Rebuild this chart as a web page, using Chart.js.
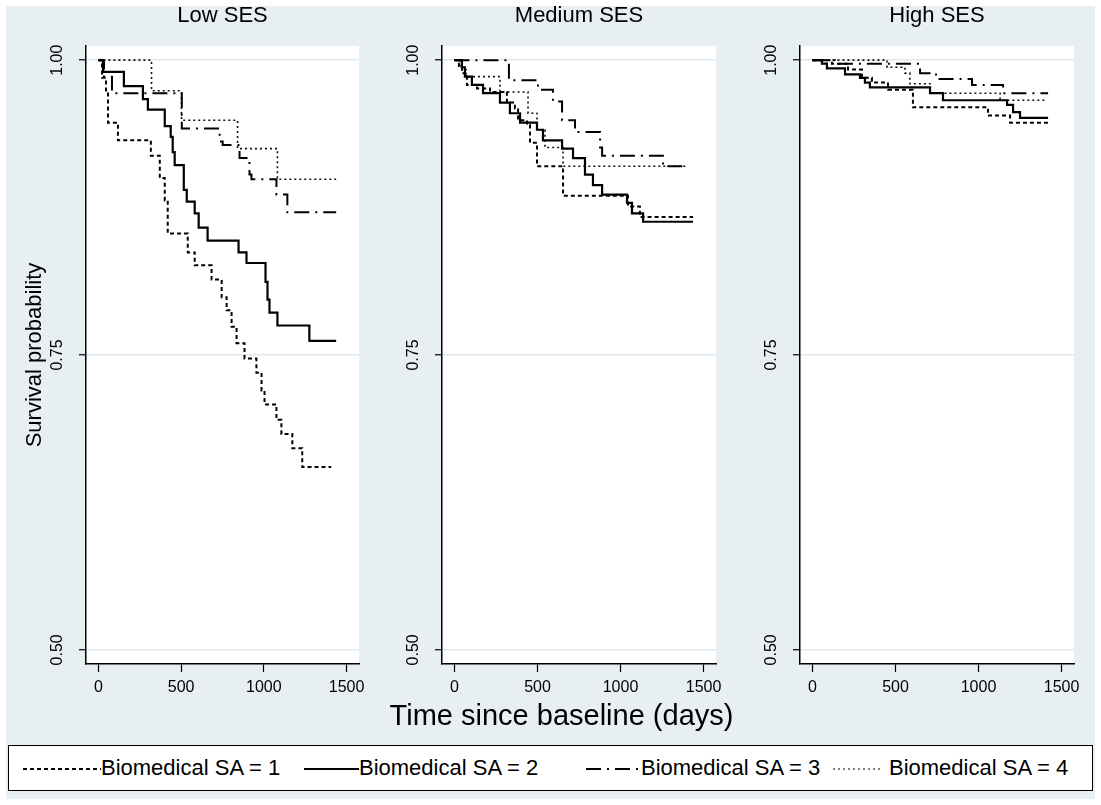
<!DOCTYPE html>
<html lang="en">
<head>
<meta charset="UTF-8">
<title>Survival by SES</title>
<script src="https://cdn.jsdelivr.net/npm/chart.js"></script>
<style>
  body { margin: 0; background: #fff; font-family: "Liberation Sans", Arial, sans-serif; }
  #frame { position: absolute; left: 6px; top: 6px; width: 1089px; height: 793px; background: #e8eff2; }
  canvas { position: absolute; top: 0; }
  #xtitle { position: absolute; left: 11px; width: 1101px; top: 699px; text-align: center;
            font-size: 29px; color: #000; }
  #legend { position: absolute; left: 8px; top: 745px; width: 1083px; height: 44px;
            background: #fff; border: 1px solid #000; }
  .item { position: absolute; top: 0; height: 44px; line-height: 44px; font-size: 22px; white-space: nowrap; }
  .item svg { position: absolute; top: 21px; }
</style>
</head>
<body>
<div id="frame"></div>
<canvas id="low" width="362" height="706" style="left:6px"></canvas>
<canvas id="med" width="360" height="706" style="left:362px"></canvas>
<canvas id="high" width="360" height="706" style="left:720px"></canvas>
<div id="xtitle">Time since baseline (days)</div>
<div id="legend">
  <div class="item" style="left:14px"><svg width="78" height="4"><line x1="0" y1="2" x2="78" y2="2" stroke="#000" stroke-width="2" stroke-dasharray="4 3"/></svg><span style="margin-left:78px">Biomedical SA = 1</span></div>
  <div class="item" style="left:295px"><svg width="55" height="4"><line x1="0" y1="2" x2="55" y2="2" stroke="#000" stroke-width="2"/></svg><span style="margin-left:55px">Biomedical SA = 2</span></div>
  <div class="item" style="left:577px"><svg width="52" height="4"><line x1="0" y1="2" x2="52" y2="2" stroke="#000" stroke-width="2" stroke-dasharray="15 6 2 6"/></svg><span style="margin-left:55px">Biomedical SA = 3</span></div>
  <div class="item" style="left:824px"><svg width="50" height="4"><line x1="0" y1="2" x2="50" y2="2" stroke="#555" stroke-width="1.5" stroke-dasharray="2 3"/></svg><span style="margin-left:56px">Biomedical SA = 4</span></div>
</div>
<script>
// Kaplan-Meier estimates (time in days, survival probability)
const lowT1 = [0, 22, 46, 58, 118, 317, 371, 401, 419, 540, 582, 684, 745, 775, 805, 835, 883, 955, 986, 1004, 1076, 1106, 1172, 1232, 1407];
const lowS1 = [1, 0.985, 0.973, 0.947, 0.932, 0.919, 0.900, 0.881, 0.853, 0.837, 0.826, 0.814, 0.799, 0.788, 0.774, 0.760, 0.747, 0.735, 0.720, 0.708, 0.695, 0.683, 0.671, 0.655, 0.655];
const lowT2 = [0, 28, 154, 269, 299, 401, 437, 449, 461, 516, 534, 582, 606, 660, 847, 895, 1010, 1022, 1034, 1082, 1275, 1437];
const lowS2 = [1, 0.990, 0.978, 0.967, 0.958, 0.944, 0.935, 0.922, 0.911, 0.890, 0.880, 0.870, 0.858, 0.847, 0.837, 0.828, 0.812, 0.797, 0.786, 0.775, 0.762, 0.762];
const lowT3 = [0, 34, 82, 504, 733, 751, 853, 913, 925, 1076, 1142, 1437];
const lowS3 = [1, 0.986, 0.972, 0.942, 0.931, 0.928, 0.917, 0.903, 0.899, 0.886, 0.871, 0.871];
const lowT4 = [0, 321, 502, 841, 1082, 1437];
const lowS4 = [1, 0.974, 0.949, 0.925, 0.899, 0.899];

const medT1 = [0, 27, 45, 75, 136, 214, 316, 364, 383, 437, 455, 497, 654, 1045, 1117, 1437];
const medS1 = [1, 0.995, 0.989, 0.979, 0.976, 0.973, 0.964, 0.959, 0.949, 0.945, 0.930, 0.910, 0.885, 0.876, 0.867, 0.867];
const medT2 = [0, 45, 63, 105, 172, 274, 334, 395, 497, 533, 648, 714, 786, 834, 889, 1039, 1069, 1136, 1437];
const medS2 = [1, 0.994, 0.986, 0.979, 0.972, 0.964, 0.955, 0.947, 0.941, 0.932, 0.925, 0.917, 0.903, 0.894, 0.886, 0.879, 0.870, 0.863, 0.863];
const medT3 = [0, 328, 503, 593, 648, 726, 877, 889, 1256, 1407];
const medS3 = [1, 0.983, 0.975, 0.965, 0.949, 0.939, 0.926, 0.919, 0.910, 0.910];
const medT4 = [0, 33, 69, 274, 443, 497, 545, 654, 1407];
const medS4 = [1, 0.993, 0.986, 0.973, 0.955, 0.941, 0.926, 0.910, 0.910];

const highT1 = [0, 117, 214, 298, 358, 455, 605, 1057, 1190, 1419];
const highS1 = [1, 0.997, 0.992, 0.985, 0.981, 0.975, 0.960, 0.953, 0.947, 0.947];
const highT2 = [0, 57, 87, 196, 286, 316, 346, 708, 786, 1172, 1208, 1250, 1419];
const highS2 = [1, 0.997, 0.993, 0.988, 0.985, 0.981, 0.977, 0.972, 0.966, 0.962, 0.956, 0.951, 0.951];
const highT3 = [0, 136, 648, 744, 961, 1148, 1419];
const highS3 = [1, 0.997, 0.989, 0.984, 0.979, 0.972, 0.972];
const highT4 = [0, 449, 557, 587, 708, 1130, 1413];
const highS4 = [1, 0.994, 0.989, 0.980, 0.972, 0.966, 0.966];

const seriesNames = ['Biomedical SA = 1', 'Biomedical SA = 2', 'Biomedical SA = 3', 'Biomedical SA = 4'];
const xTicks = [0, 500, 1000, 1500];
const yTicks = [0.50, 0.75, 1.00];

const lineStyles = [
  { borderDash: [4, 3], borderWidth: 2, borderColor: '#000' },
  { borderDash: [], borderWidth: 2.2, borderColor: '#000' },
  { borderDash: [15, 6, 2, 6], borderWidth: 2, borderColor: '#000' },
  { borderDash: [2, 3], borderWidth: 1.6, borderColor: '#111' }
];

const plotBg = {
  id: 'plotBg',
  beforeDraw(chart) {
    const a = chart.chartArea, ctx = chart.ctx;
    ctx.save();
    ctx.fillStyle = '#fff';
    ctx.fillRect(a.left, a.top, a.right - a.left, a.bottom - a.top);
    ctx.restore();
  }
};

function toPoints(t, s) {
  return t.map((x, i) => ({ x: x, y: s[i] }));
}

function drawPanel(id, title, series, showYTitle, padRight) {
  const datasets = series.map((p, i) => Object.assign({
    label: seriesNames[i],
    data: toPoints(p[0], p[1]),
    stepped: true,
    fill: false,
    pointRadius: 0
  }, lineStyles[i]));

  new Chart(document.getElementById(id), {
    type: 'line',
    data: { datasets: datasets },
    plugins: [plotBg],
    options: {
      responsive: false,
      animation: false,
      layout: { padding: { left: 0, right: padRight, top: 0, bottom: 0 } },
      plugins: {
        legend: { display: false },
        tooltip: { enabled: false },
        title: {
          display: true,
          fullSize: false,
          text: title,
          color: '#000',
          font: { family: 'Liberation Sans', size: 22, weight: 'normal', lineHeight: 1.2 },
          padding: { top: 3, bottom: 16.6 }
        }
      },
      scales: {
        x: {
          type: 'linear',
          min: -75,
          max: 1575,
          afterBuildTicks: s => { s.ticks = xTicks.map(v => ({ value: v })); },
          afterFit: s => { s.height = 42; s.paddingLeft = 0; s.paddingRight = 0; },
          ticks: {
            color: '#000',
            font: { family: 'Liberation Sans', size: 16 },
            callback: v => String(v),
            padding: 6,
            maxRotation: 0,
            autoSkip: false
          },
          grid: { drawOnChartArea: false, tickLength: 8, tickColor: '#000', tickWidth: 1.2 },
          border: { color: '#000', width: 1.5 }
        },
        y: {
          min: 0.488,
          max: 1.012,
          afterBuildTicks: s => { s.ticks = yTicks.map(v => ({ value: v })); },
          afterFit: s => { s.width = 80; s.paddingTop = 0; s.paddingBottom = 0; },
          ticks: {
            color: '#000',
            font: { family: 'Liberation Sans', size: 16 },
            callback: v => v.toFixed(2),
            minRotation: 90,
            maxRotation: 90,
            crossAlign: 'center',
            padding: 6
          },
          grid: { color: '#dfe9ed', lineWidth: 1.5, tickLength: 7, tickColor: '#000', tickWidth: 1.2 },
          border: { color: '#000', width: 1.5 },
          title: {
            display: showYTitle,
            text: 'Survival probability',
            color: '#000',
            font: { family: 'Liberation Sans', size: 22, lineHeight: 1.2 },
            padding: { top: 16, bottom: 0 }
          }
        }
      }
    }
  });
}

drawPanel('low', 'Low SES', [[lowT1, lowS1], [lowT2, lowS2], [lowT3, lowS3], [lowT4, lowS4]], true, 9);
drawPanel('med', 'Medium SES', [[medT1, medS1], [medT2, medS2], [medT3, medS3], [medT4, medS4]], false, 6);
drawPanel('high', 'High SES', [[highT1, highS1], [highT2, highS2], [highT3, highS3], [highT4, highS4]], false, 6);
</script>
</body>
</html>
